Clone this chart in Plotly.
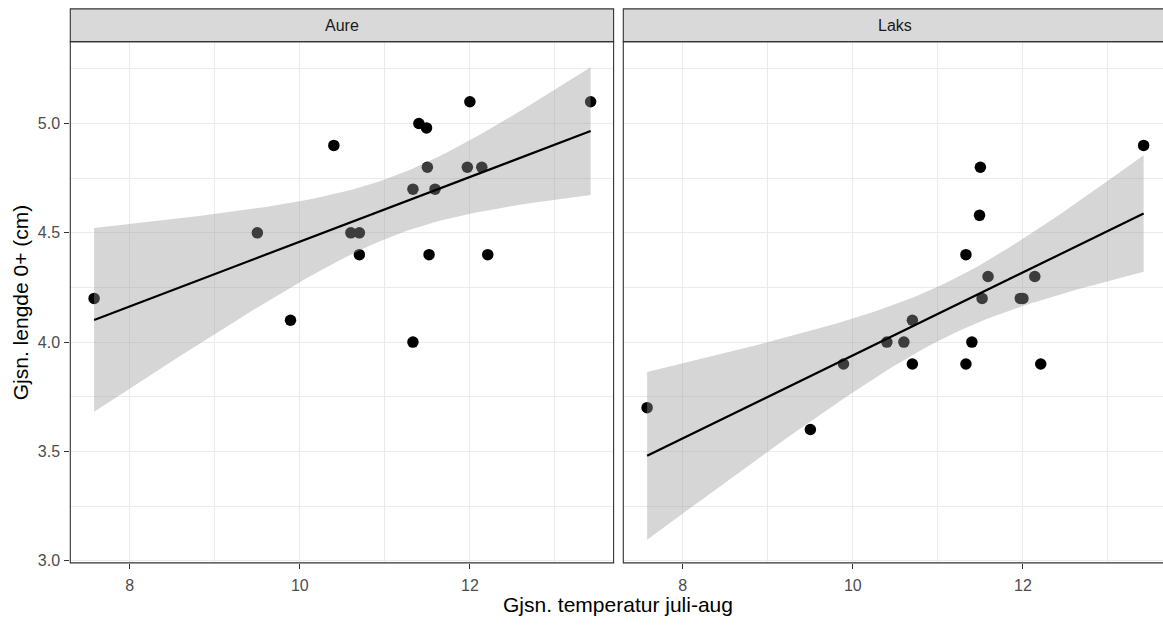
import numpy as np
import plotly.graph_objects as go

# ---------------- data ----------------
temperature = [7.58, 9.50, 9.89, 10.40, 10.60, 10.70, 10.70, 11.33, 11.33, 11.40,
               11.49, 11.50, 11.52, 11.59, 11.97, 12.00, 12.14, 12.21, 13.42]
aure_length = [4.20, 4.50, 4.10, 4.90, 4.50, 4.50, 4.40, 4.00, 4.70, 5.00,
               4.98, 4.80, 4.40, 4.70, 4.80, 5.10, 4.80, 4.40, 5.10]
laks_length = [3.70, 3.60, 3.90, 4.00, 4.00, 4.10, 3.90, 4.40, 3.90, 4.00,
               4.58, 4.80, 4.20, 4.30, 4.20, 4.20, 4.30, 3.90, 4.90]
panels = ["Aure", "Laks"]
x_ticks = [8, 10, 12]
y_ticks = [3.0, 3.5, 4.0, 4.5, 5.0]
x_title = "Gjsn. temperatur juli-aug"
y_title = "Gjsn. lengde 0+ (cm)"

# ---------------- layout geometry (pixels) ----------------
W, H = 1163, 626
px_per_x = 85.02
L1, R1 = 70.3, 613.6
L2 = 623.3
R2_full = L2 + (R1 - L1)
TOP, BOT = 42.0, 568.3
STRIP_TOP = 9.0
XMIN = 7.30
xrange1 = [XMIN, XMIN + (R1 - L1) / px_per_x]
xrange2 = [XMIN, XMIN + (W - L2) / px_per_x]
yrange = [2.99, 5.375]

FONT = "Liberation Sans, Arial, sans-serif"
T_Q = 2.109816  # t quantile 0.975, df = 17


def px2x(p):
    return p / W


def px2y(p):
    return 1 - p / H


def lm_smooth(x, y, n=80):
    x = np.asarray(x, float)
    y = np.asarray(y, float)
    b1, b0 = np.polyfit(x, y, 1)
    resid = y - (b0 + b1 * x)
    s = np.sqrt(np.sum(resid ** 2) / (len(x) - 2))
    xm = x.mean()
    sxx = np.sum((x - xm) ** 2)
    xs = np.linspace(x.min(), x.max(), n)
    yh = b0 + b1 * xs
    se = s * np.sqrt(1 / len(x) + (xs - xm) ** 2 / sxx)
    return xs, yh, yh - T_Q * se, yh + T_Q * se


fig = go.Figure()
for i, ys in enumerate([aure_length, laks_length]):
    xa = "x" if i == 0 else "x2"
    ya = "y" if i == 0 else "y2"
    fig.add_trace(go.Scatter(x=temperature, y=ys, mode="markers", xaxis=xa, yaxis=ya,
                             marker=dict(color="black", size=11.5, line=dict(width=0)),
                             showlegend=False, hoverinfo="skip"))
    xs, yh, lo, hi = lm_smooth(temperature, ys)
    fig.add_trace(go.Scatter(x=np.concatenate([xs, xs[::-1]]),
                             y=np.concatenate([hi, lo[::-1]]),
                             mode="lines", fill="toself", xaxis=xa, yaxis=ya,
                             fillcolor="rgba(153,153,153,0.4)", line=dict(width=0),
                             showlegend=False, hoverinfo="skip"))
    fig.add_trace(go.Scatter(x=xs, y=yh, mode="lines", xaxis=xa, yaxis=ya,
                             line=dict(color="black", width=2.2),
                             showlegend=False, hoverinfo="skip"))

grid_major = "#ebebeb"
common_x = dict(tickmode="array", tickvals=x_ticks, ticktext=[str(v) for v in x_ticks],
                ticks="outside", ticklen=5, tickwidth=1.1, tickcolor="#333333",
                ticklabelstandoff=3,
                showgrid=True, gridcolor=grid_major, gridwidth=1.1,
                minor=dict(showgrid=True, gridcolor=grid_major, gridwidth=0.6,
                           tickmode="array", tickvals=[9, 11, 13], ticks=""),
                zeroline=False, showline=False,
                tickfont=dict(family=FONT, size=16, color="#4d4d4d"))
common_y = dict(range=yrange, tickmode="array", tickvals=y_ticks,
                showgrid=True, gridcolor=grid_major, gridwidth=1.1,
                minor=dict(showgrid=True, gridcolor=grid_major, gridwidth=0.6,
                           tickmode="array", tickvals=[3.25, 3.75, 4.25, 4.75, 5.25], ticks=""),
                zeroline=False, showline=False,
                domain=[px2y(BOT), px2y(TOP)])

fig.update_layout(
    width=W, height=H,
    margin=dict(l=0, r=0, t=0, b=0),
    paper_bgcolor="white", plot_bgcolor="white",
    showlegend=False,
    font=dict(family=FONT),
    xaxis=dict(domain=[px2x(L1), px2x(R1)], range=xrange1, anchor="y", **common_x),
    xaxis2=dict(domain=[px2x(L2), 1.0], range=xrange2, anchor="y2", **common_x),
    yaxis=dict(anchor="x", ticks="outside", ticklen=5, tickwidth=1.1, tickcolor="#333333",
               ticktext=[f"{v:.1f}" for v in y_ticks], ticklabelstandoff=1,
               tickfont=dict(family=FONT, size=16, color="#4d4d4d"), **common_y),
    yaxis2=dict(anchor="x2", showticklabels=False, ticks="", **common_y),
)

shapes = []
for (l, r) in [(L1, R1), (L2, R2_full)]:
    # panel border
    shapes.append(dict(type="rect", xref="paper", yref="paper",
                       x0=px2x(l), x1=px2x(r), y0=px2y(BOT), y1=px2y(TOP),
                       line=dict(color="#333333", width=1.1), fillcolor="rgba(0,0,0,0)",
                       layer="above"))
    # strip
    shapes.append(dict(type="rect", xref="paper", yref="paper",
                       x0=px2x(l), x1=px2x(r), y0=px2y(TOP), y1=px2y(STRIP_TOP),
                       line=dict(color="#333333", width=1.1), fillcolor="#d9d9d9",
                       layer="above"))
fig.update_layout(shapes=shapes)

annotations = []
for name, (l, r) in zip(panels, [(L1, R1), (L2, R2_full)]):
    annotations.append(dict(text=name, xref="paper", yref="paper",
                            x=px2x((l + r) / 2), y=px2y((TOP + STRIP_TOP) / 2),
                            xanchor="center", yanchor="middle", showarrow=False,
                            font=dict(family=FONT, size=16, color="#1a1a1a")))
annotations.append(dict(text=x_title, xref="paper", yref="paper",
                        x=px2x((L1 + R2_full) / 2), y=px2y(610),
                        xanchor="center", yanchor="middle", showarrow=False,
                        font=dict(family=FONT, size=21, color="black")))
annotations.append(dict(text=y_title, xref="paper", yref="paper",
                        x=px2x(20), y=px2y((TOP + BOT) / 2), textangle=-90,
                        xanchor="center", yanchor="middle", showarrow=False,
                        font=dict(family=FONT, size=21, color="black")))
fig.update_layout(annotations=annotations)

fig.write_html("out.html")
